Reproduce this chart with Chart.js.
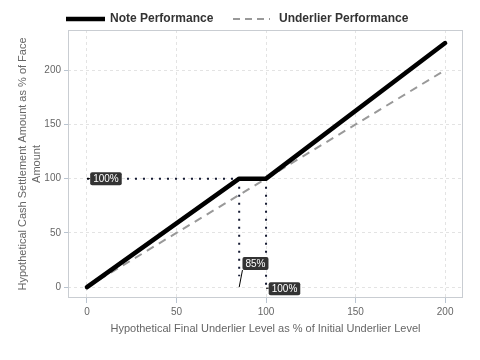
<!DOCTYPE html>
<html>
<head>
<meta charset="utf-8">
<script src="https://cdn.jsdelivr.net/npm/chart.js@4/dist/chart.umd.min.js"></script>
<style>
  html, body { margin: 0; padding: 0; background: #fff; }
  #wrap { width: 480px; height: 360px; }
</style>
</head>
<body>
<div id="wrap"><canvas id="chart" width="480" height="360"></canvas></div>
<script>
const noteX = [0, 85, 100, 200];
const noteY = [0, 100, 100, 225];
const underX = [0, 200];
const underY = [0, 200];
const xTicks = [0, 50, 100, 150, 200];
const yTicks = [0, 50, 100, 150, 200];

// dotted guide segments: [x1, y1, x2, y2]
const guides = [
  [0, 100, 85, 100],
  [85, 100, 85, 10],
  [100, 100, 100, 2],
];

// callout labels: text, label centre, anchor point
const callouts = [
  { text: "100%", x: 10.6, y: 100, ax: 0, ay: 100 },
  { text: "85%", x: 94.1, y: 21.7, ax: 85, ay: 0 },
  { text: "100%", x: 110.3, y: -1.4, ax: 100, ay: -1 },
];

const FONT = "'Liberation Sans', Arial, sans-serif";

function pts(xs, ys) {
  return xs.map((x, i) => ({ x, y: ys[i] }));
}

const frame = {
  id: "frame",
  afterDraw(chart) {
    const { ctx, chartArea: a } = chart;
    ctx.save();
    ctx.strokeStyle = "#c9cdd2";
    ctx.lineWidth = 1;
    ctx.strokeRect(a.left + 0.5, a.top + 0.5, a.right - a.left - 1, a.bottom - a.top - 1);
    ctx.restore();
  },
};

const labels = {
  id: "labels",
  afterDatasetsDraw(chart) {
    const { ctx, scales } = chart;
    ctx.save();
    ctx.font = "10px " + FONT;
    callouts.forEach((c) => {
      const cx = scales.x.getPixelForValue(c.x);
      const cy = scales.y.getPixelForValue(c.y);
      const px = scales.x.getPixelForValue(c.ax);
      const py = scales.y.getPixelForValue(c.ay);
      const w = ctx.measureText(c.text).width + 6;
      const h = 13;
      const l = cx - w / 2, t = cy - h / 2;
      // connector to nearest box point
      const ex = Math.max(l, Math.min(px, l + w));
      const ey = Math.max(t, Math.min(py, t + h));
      ctx.strokeStyle = "#000";
      ctx.lineWidth = 1;
      ctx.beginPath();
      ctx.moveTo(px, py);
      ctx.lineTo(ex, ey);
      ctx.stroke();
      ctx.fillStyle = "#333";
      ctx.beginPath();
      ctx.roundRect(l, t, w, h, 2);
      ctx.fill();
      ctx.fillStyle = "#fff";
      ctx.textAlign = "center";
      ctx.textBaseline = "middle";
      ctx.fillText(c.text, cx, cy + 0.5);
    });
    ctx.restore();
  },
};

const legend = {
  id: "customLegend",
  afterDraw(chart) {
    const { ctx } = chart;
    ctx.save();
    ctx.font = "bold 12px " + FONT;
    ctx.fillStyle = "#333";
    ctx.textBaseline = "middle";
    const y = 19;
    ctx.strokeStyle = "#000";
    ctx.lineWidth = 4.5;
    ctx.beginPath();
    ctx.moveTo(66, y);
    ctx.lineTo(105, y);
    ctx.stroke();
    ctx.fillText("Note Performance", 110, y);
    ctx.strokeStyle = "#999";
    ctx.lineWidth = 2;
    ctx.setLineDash([7, 5]);
    ctx.beginPath();
    ctx.moveTo(233, y);
    ctx.lineTo(270, y);
    ctx.stroke();
    ctx.setLineDash([]);
    ctx.fillText("Underlier Performance", 279, y);
    ctx.restore();
  },
};

const guideSets = guides.map((g) => ({
  data: [{ x: g[0], y: g[1] }, { x: g[2], y: g[3] }],
  borderColor: "#161b33",
  borderWidth: 2,
  borderDash: [2, 6],
  pointRadius: 0,
  order: 3,
}));

new Chart(document.getElementById("chart"), {
  type: "line",
  data: {
    datasets: [
      {
        label: "Note Performance",
        data: pts(noteX, noteY),
        borderColor: "#000",
        borderWidth: 4.5,
        pointRadius: 0,
        borderJoinStyle: "round",
        borderCapStyle: "round",
        order: 1,
      },
      {
        label: "Underlier Performance",
        data: pts(underX, underY),
        borderColor: "#999",
        borderWidth: 2,
        borderDash: [8, 6],
        pointRadius: 0,
        order: 2,
      },
      ...guideSets,
    ],
  },
  options: {
    responsive: false,
    animation: false,
    layout: { padding: { top: 30, right: 17, left: 16, bottom: 24 } },
    plugins: { legend: { display: false }, tooltip: { enabled: false } },
    scales: {
      x: {
        type: "linear",
        min: -10.6,
        max: 210,
        afterBuildTicks(s) { s.ticks = xTicks.map((v) => ({ value: v })); },
        afterFit(s) { s.height = 38; },
        grid: {
          color: "#e3e3e3",
          borderDash: [3, 3],
          tickLength: 5,
          tickColor: "#b9c4d0",
          tickBorderDash: [],
        },
        border: { display: false, dash: [3, 3] },
        ticks: { color: "#666", font: { family: FONT, size: 10 }, padding: 3 },
        title: {
          display: true,
          text: "Hypothetical Final Underlier Level as % of Initial Underlier Level",
          color: "#666",
          font: { family: FONT, size: 11 },
          padding: { top: 2, bottom: 0 },
        },
      },
      y: {
        type: "linear",
        min: -10,
        max: 237,
        afterBuildTicks(s) { s.ticks = yTicks.map((v) => ({ value: v })); },
        afterFit(s) { s.width = 52; },
        grid: {
          color: "#e3e3e3",
          tickLength: 4,
          tickColor: "#b9c4d0",
          tickBorderDash: [],
        },
        border: { display: false, dash: [3, 3] },
        ticks: { color: "#666", font: { family: FONT, size: 10 }, padding: 3 },
        title: {
          display: true,
          text: ["Hypothetical Cash Settlement Amount as % of Face", "Amount"],
          color: "#666",
          font: { family: FONT, size: 11, lineHeight: 1.25 },
          padding: { top: 0, bottom: 0 },
        },
      },
    },
  },
  plugins: [frame, labels, legend],
});
</script>
</body>
</html>
